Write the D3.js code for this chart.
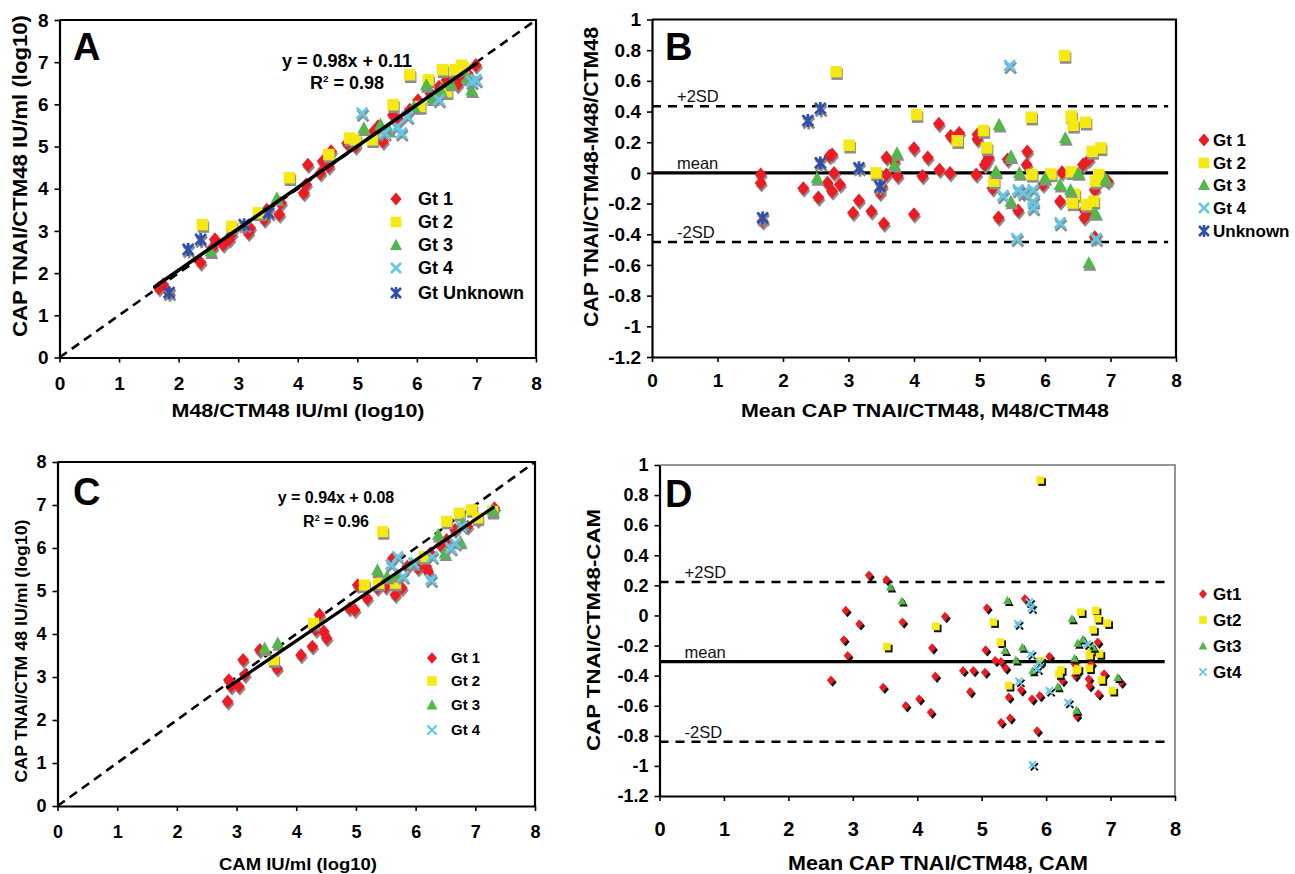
<!DOCTYPE html>
<html>
<head>
<meta charset="utf-8">
<script src="https://cdn.jsdelivr.net/npm/d3@7"></script>
<style>
  body { margin: 0; background: #fff; }
  svg text { font-family: "Liberation Sans", Arial, Helvetica, sans-serif; }
</style>
</head>
<body>
<svg id="chart" width="1295" height="874"></svg>
<script>
// ---------- Axis ticks ----------
const logTicks = [0, 1, 2, 3, 4, 5, 6, 7, 8];
const diffTicks = [-1.2, -1, -0.8, -0.6, -0.4, -0.2, 0, 0.2, 0.4, 0.6, 0.8, 1];

// ---------- Legend labels ----------
const legendA = ["Gt 1", "Gt 2", "Gt 3", "Gt 4", "Gt Unknown"];
const legendB = ["Gt 1", "Gt 2", "Gt 3", "Gt 4", "Unknown"];
const legendC = ["Gt 1", "Gt 2", "Gt 3", "Gt 4"];
const legendD = ["Gt1", "Gt2", "Gt3", "Gt4"];

// ---------- Panel A: CAP TNAI/CTM48 vs M48/CTM48 (log10 IU/ml) ----------
const aGt1 = [[1.67,1.65],[1.74,1.73],[1.84,1.54],[2.37,2.25],[2.57,2.60],[2.61,2.80],[2.75,2.68],[2.85,2.80],[2.89,2.92],[3.17,2.96],[3.20,3.07],[3.44,3.27],[3.48,3.50],[3.69,3.39],[3.72,3.66],[4.10,3.90],[4.14,4.10],[4.17,4.57],[4.38,4.37],[4.42,4.65],[4.52,4.53],[4.56,4.89],[4.83,5.08],[4.97,5.00],[5.25,5.32],[5.35,5.48],[5.43,5.12],[5.60,5.75],[5.70,5.63],[5.88,5.87],[6.02,6.10],[6.23,6.26],[6.37,6.42],[6.50,6.58],[6.68,6.46],[6.71,6.66],[6.85,6.74],[6.99,6.93],[6.92,6.58]];
const aGt2 = [[2.40,3.15],[2.89,3.11],[3.34,3.43],[3.86,4.26],[4.52,4.81],[4.87,5.20],[4.97,5.16],[5.25,5.16],[5.60,5.99],[5.88,6.70],[6.05,5.95],[6.19,6.58],[6.43,6.82],[6.50,6.30],[6.64,6.82],[6.75,6.93],[6.78,6.86]];
const aGt3 = [[2.54,2.52],[3.65,3.78],[5.11,5.44],[5.39,5.52],[5.53,5.40],[5.95,5.95],[6.16,6.46],[6.26,6.15],[6.40,6.34],[6.57,6.50],[6.85,6.62],[6.92,6.34]];
const aGt4 = [[5.08,5.79],[5.46,5.32],[5.67,5.48],[5.74,5.32],[5.84,5.71],[6.37,6.11],[6.92,6.54],[6.99,6.58]];
const aUnk = [[1.84,1.54],[2.16,2.56],[2.37,2.80],[3.10,3.15],[3.51,3.43]];
const fitA = { slope: 0.98, intercept: 0.11, r2: 0.98, from: 1.6, to: 7.0 };

// ---------- Panel B: difference vs mean, CAP TNAI/CTM48 and M48/CTM48 ----------
const bGt1 = [[1.66,-0.01],[1.66,-0.065],[1.69,-0.315],[2.31,-0.10],[2.54,-0.16],[2.71,0.11],[2.75,0.12],[2.68,-0.065],[2.75,-0.12],[2.78,0.0],[2.87,-0.076],[3.07,-0.26],[3.16,-0.18],[3.35,-0.25],[3.51,-0.087],[3.54,-0.33],[3.48,-0.13],[3.58,0.10],[3.58,-0.01],[3.70,0.076],[3.75,-0.02],[4.00,0.16],[4.00,-0.27],[4.13,-0.02],[4.21,0.10],[4.39,0.02],[4.38,0.32],[4.55,0.0],[4.56,0.24],[4.69,0.26],[4.95,-0.01],[4.97,0.25],[4.97,0.22],[5.08,0.054],[5.14,0.10],[5.11,0.076],[5.20,-0.10],[5.29,-0.29],[5.43,0.087],[5.59,-0.245],[5.67,-0.13],[5.72,0.054],[5.73,0.14],[5.97,-0.076],[6.23,-0.185],[6.26,0.004],[6.58,0.054],[6.67,0.087],[6.60,-0.24],[6.60,-0.29],[6.64,-0.26],[6.76,-0.11],[6.76,-0.42],[6.96,-0.054]];
const bGt2 = [[2.81,0.66],[3.01,0.18],[3.42,0.0],[4.04,0.38],[4.66,0.21],[5.06,0.276],[5.11,0.163],[5.22,-0.054],[5.79,0.363],[5.80,-0.01],[6.09,-0.007],[6.30,0.765],[6.40,0.37],[6.43,0.31],[6.62,0.33],[6.40,0.007],[6.45,-0.14],[6.42,-0.196],[6.63,-0.206],[6.74,-0.185],[6.72,0.14],[6.85,0.163],[6.77,-0.054],[6.82,-0.01]];
const bGt3 = [[2.52,-0.033],[3.70,0.054],[3.74,0.13],[5.30,0.315],[5.25,0.011],[5.48,0.11],[5.48,-0.185],[5.61,0.0],[6.00,-0.033],[6.23,-0.076],[6.31,0.228],[6.39,-0.11],[6.51,0.0],[6.77,-0.26],[6.93,-0.043],[6.67,-0.587]];
const bGt4 = [[5.46,0.70],[5.36,-0.148],[5.57,-0.428],[5.59,-0.11],[5.67,-0.13],[5.82,-0.11],[5.82,-0.185],[5.82,-0.228],[6.23,-0.326],[6.78,-0.428]];
const bUnk = [[1.69,-0.293],[2.38,0.341],[2.57,0.42],[2.57,0.065],[3.16,0.033],[3.48,-0.087]];
const limitsB = { mean: 0, upper: 0.435, lower: -0.45 };

// ---------- Panel C: CAP TNAI/CTM48 vs CAM (log10 IU/ml) ----------
const cGt1 = [[2.85,2.43],[2.87,2.93],[2.91,2.78],[3.04,2.78],[3.11,3.40],[3.14,3.05],[3.39,3.63],[3.68,3.20],[4.08,3.51],[4.27,3.71],[4.33,4.10],[4.39,4.45],[4.46,4.06],[4.51,3.90],[4.89,4.60],[4.98,4.56],[5.03,5.14],[5.19,4.83],[5.36,5.07],[5.50,5.10],[5.62,5.76],[5.66,4.91],[5.77,5.07],[5.86,5.57],[6.04,5.53],[6.18,5.57],[6.21,5.45],[6.25,5.88],[6.42,6.07],[6.52,6.19],[6.66,6.42],[6.87,6.50],[7.04,6.66],[7.32,6.93]];
const cGt2 = [[3.62,3.40],[4.29,4.25],[5.14,5.14],[5.38,5.18],[5.45,6.38],[5.66,5.18],[6.14,5.80],[6.52,6.62],[6.73,6.81],[6.94,6.89],[7.04,6.70],[7.29,6.85]];
const cGt3 = [[3.47,3.67],[3.69,3.79],[5.36,5.49],[5.52,5.34],[5.69,5.38],[5.93,5.65],[6.38,6.31],[6.49,5.88],[6.75,6.15],[6.79,6.58],[7.29,6.89]];
const cGt4 = [[5.59,5.61],[5.70,5.80],[5.79,5.34],[5.97,5.65],[6.28,5.80],[6.26,5.26],[6.59,6.00],[6.66,6.11],[6.77,6.50]];
const fitC = { slope: 0.94, intercept: 0.08, r2: 0.96, from: 2.85, to: 7.3 };

// ---------- Panel D: difference vs mean, CAP TNAI/CTM48 and CAM ----------
const dGt1 = [[2.66,-0.43],[2.86,-0.162],[2.89,0.033],[2.92,-0.267],[3.10,-0.056],[3.25,0.267],[3.47,-0.478],[3.52,0.238],[3.77,-0.044],[3.82,-0.60],[4.03,-0.556],[4.21,-0.644],[4.23,-0.216],[4.28,-0.404],[4.43,-0.007],[4.71,-0.367],[4.82,-0.507],[4.87,-0.367],[5.05,-0.378],[5.06,-0.229],[5.08,0.049],[5.21,-0.30],[5.30,-0.307],[5.30,-0.711],[5.37,-0.349],[5.42,-0.544],[5.44,-0.682],[5.61,-0.496],[5.67,0.111],[5.78,-0.556],[5.86,-0.767],[5.90,-0.533],[6.05,-0.273],[6.25,-0.433],[6.44,-0.322],[6.45,-0.40],[6.47,-0.667],[6.66,-0.422],[6.67,-0.467],[6.70,-0.322],[6.80,-0.178],[6.81,-0.522],[6.90,-0.389],[7.16,-0.444]];
const dGt2 = [[3.53,-0.207],[4.29,-0.073],[5.18,-0.044],[5.29,-0.178],[5.42,-0.467],[5.91,0.90],[5.91,-0.30],[6.20,-0.389],[6.23,-0.362],[6.47,-0.367],[6.49,-0.356],[6.54,0.022],[6.67,-0.267],[6.67,-0.351],[6.73,-0.096],[6.77,0.033],[6.80,-0.022],[6.83,-0.256],[6.86,-0.429],[6.95,-0.051],[7.03,-0.50],[6.69,-0.233]];
const dGt3 = [[3.58,0.189],[3.76,0.096],[5.40,0.10],[5.36,-0.233],[5.53,-0.296],[5.63,-0.211],[5.79,-0.367],[6.18,-0.473],[6.40,-0.022],[6.44,-0.284],[6.49,-0.184],[6.57,-0.156],[6.73,-0.211],[6.47,-0.629],[7.11,-0.411]];
const dGt4 = [[5.56,-0.056],[5.58,-0.438],[5.74,0.089],[5.77,0.049],[5.76,-0.256],[5.79,-0.993],[5.86,-0.356],[5.89,-0.311],[6.05,-0.50],[6.34,-0.578],[6.64,-0.189]];
const limitsD = { mean: -0.307, upper: 0.222, lower: -0.84 };

// ---------- Styling ----------
const COLORS = ["#ec1c24", "#f6e813", "#52b848", "#62c8e8", "#3050a8"];
const SHAPES = ["diamond", "square", "triangle", "cross", "star"];

const svg = d3.select("#chart");

function shapePath(shape, k) {
  switch (shape) {
    case "diamond": return `M0,${-6.5*k}L${5.6*k},0L0,${6.5*k}L${-5.6*k},0Z`;
    case "square": return `M${-5.3*k},${-5.3*k}h${10.6*k}v${10.6*k}h${-10.6*k}Z`;
    case "triangle": return `M0,${-6.3*k}L${6*k},${5*k}L${-6*k},${5*k}Z`;
    case "cross": return `M${-5*k},${-5*k}L${5*k},${5*k}M${-5*k},${5*k}L${5*k},${-5*k}`;
    case "star": return `M${-5*k},${-5*k}L${5*k},${5*k}M${-5*k},${5*k}L${5*k},${-5*k}M0,${-6*k}V${6*k}`;
  }
}
const isStroke = s => s === "cross" || s === "star";

function drawSeries(g, pts, shape, color, k, shadowColor, sdx, sdy, x, y) {
  const d = shapePath(shape, k);
  const layer = g.append("g");
  [[shadowColor, sdx, sdy], [color, 0, 0]].forEach(([c, ox, oy]) => {
    layer.append("g").selectAll("path").data(pts).join("path")
      .attr("transform", p => `translate(${x(p[0]) + ox},${y(p[1]) + oy})`)
      .attr("d", d)
      .attr("fill", isStroke(shape) ? "none" : c)
      .attr("stroke", isStroke(shape) ? c : "none")
      .attr("stroke-width", isStroke(shape) ? 2.6 * k : 0);
  });
}

function drawPanel(o) {
  const g = svg.append("g");
  const x = d3.scaleLinear().domain([0, 8]).range(o.xRange);
  const y = d3.scaleLinear().domain(o.yDomain).range(o.yRange);
  const fmt = v => String(+v.toFixed(1));

  // frame (top and right)
  g.append("path")
    .attr("d", `M${o.xRange[0]},${o.yRange[1]}H${o.xRange[1]}V${o.yRange[0]}`)
    .attr("fill", "none").attr("stroke", o.frameColor).attr("stroke-width", o.frameWidth);

  const xAxis = g.append("g").attr("transform", `translate(0,${o.yRange[0]})`)
    .call(d3.axisBottom(x).tickValues(logTicks).tickFormat(fmt).tickSize(5).tickSizeOuter(0).tickPadding(o.xPad));
  const yAxis = g.append("g").attr("transform", `translate(${o.xRange[0]},0)`)
    .call(d3.axisLeft(y).tickValues(o.yTicks).tickFormat(fmt).tickSize(5).tickSizeOuter(0).tickPadding(6));
  [xAxis, yAxis].forEach(a => {
    a.select(".domain").attr("stroke", "#000").attr("stroke-width", 2.2);
    a.selectAll(".tick line").attr("stroke", "#000").attr("stroke-width", 1.6);
    a.selectAll(".tick text").attr("fill", "#000").style("font-size", o.tickFont + "px").style("font-weight", "bold")
      .style("font-family", "'Liberation Sans', Arial, sans-serif");
  });
  xAxis.selectAll(".tick text").style("font-size", o.xTickFont + "px");

  // reference lines
  if (o.identity) {
    g.append("line")
      .attr("x1", x(0)).attr("y1", y(0)).attr("x2", x(8)).attr("y2", y(8))
      .attr("stroke", "#000").attr("stroke-width", 2.6).attr("stroke-dasharray", "9,6");
  }
  if (o.limits) {
    const L = o.limits, xEnd = x(o.limitEnd);
    [["upper", "9,7", 2.5], ["lower", "9,7", 2.5], ["mean", null, 3.2]].forEach(([key, dash, w]) => {
      const ln = g.append("line").attr("x1", x(0)).attr("x2", xEnd)
        .attr("y1", y(L[key])).attr("y2", y(L[key]))
        .attr("stroke", "#000").attr("stroke-width", w);
      if (dash) ln.attr("stroke-dasharray", dash);
    });
    [["+2SD", L.upper], ["mean", L.mean], ["-2SD", L.lower]].forEach(([t, v]) => {
      g.append("text").attr("x", o.xRange[0] + 25).attr("y", y(v) - 4)
        .attr("font-size", 16.5).attr("fill", "#111").text(t);
    });
  }

  // markers
  o.series.forEach((pts, i) => drawSeries(g, pts, SHAPES[i], COLORS[i], o.markerK, o.shadow, o.sdx, o.sdy, x, y));

  // regression fit line
  if (o.fit) {
    const f = o.fit;
    g.append("line")
      .attr("x1", x(f.from)).attr("y1", y(f.slope * f.from + f.intercept))
      .attr("x2", x(f.to)).attr("y2", y(f.slope * f.to + f.intercept))
      .attr("stroke", "#000").attr("stroke-width", o.fitWidth).attr("stroke-linecap", "round");
    const eq = g.append("text").attr("x", o.eqPos[0]).attr("y", o.eqPos[1]).attr("text-anchor", "middle")
      .attr("font-size", o.eqFont).attr("font-weight", "bold")
      .text(`y = ${f.slope.toFixed(2)}x + ${f.intercept.toFixed(2)}`);
    const r = g.append("text").attr("x", o.eqPos[0]).attr("y", o.eqPos[1] + o.eqGap).attr("text-anchor", "middle")
      .attr("font-size", o.eqFont).attr("font-weight", "bold");
    r.append("tspan").text("R");
    r.append("tspan").attr("font-size", o.eqFont * 0.55).attr("dy", -o.eqFont * 0.4).text("2");
    r.append("tspan").attr("dy", o.eqFont * 0.4).text(` = ${f.r2.toFixed(2)}`);
  }

  // panel letter
  g.append("text").attr("x", o.letterPos[0]).attr("y", o.letterPos[1])
    .attr("font-size", 38).attr("font-weight", "bold").text(o.letter);

  // legend
  o.legend.forEach((lab, i) => {
    const ly = o.legendY[i];
    const mk = g.append("path").attr("transform", `translate(${o.legendX},${ly})`)
      .attr("d", shapePath(SHAPES[i], o.legendK));
    if (isStroke(SHAPES[i])) mk.attr("fill", "none").attr("stroke", COLORS[i]).attr("stroke-width", 2.6 * o.legendK);
    else mk.attr("fill", COLORS[i]);
    g.append("text").attr("x", o.legendX + o.legendGap).attr("y", ly + o.legendFont * 0.36)
      .attr("font-size", o.legendFont).attr("font-weight", "bold").text(lab);
  });

  // axis titles
  g.append("text").attr("x", o.xTitle[0]).attr("y", o.xTitle[1]).attr("text-anchor", "middle")
    .attr("font-size", o.xTitle[2]).attr("font-weight", "bold")
    .attr("textLength", o.xTitle[3]).attr("lengthAdjust", "spacingAndGlyphs").text(o.xTitle[4]);
  g.append("text").attr("transform", `translate(${o.yTitle[0]},${o.yTitle[1]}) rotate(-90)`)
    .attr("text-anchor", "middle").attr("font-size", o.yTitle[2]).attr("font-weight", "bold")
    .attr("textLength", o.yTitle[3]).attr("lengthAdjust", "spacingAndGlyphs").text(o.yTitle[4]);
}

drawPanel({
  letter: "A", letterPos: [73, 60],
  xRange: [59.5, 536], yDomain: [0, 8], yRange: [357.5, 20], yTicks: logTicks,
  frameColor: "#000", frameWidth: 2.2, tickFont: 19, xTickFont: 19, xPad: 14,
  identity: true, fit: fitA, fitWidth: 3.6, eqPos: [347, 67], eqGap: 22, eqFont: 18,
  series: [aGt1, aGt2, aGt3, aGt4, aUnk], markerK: 1.08, shadow: "#8c8c8c", sdx: 1, sdy: 2.5,
  legend: legendA, legendX: 396, legendY: [199, 222, 245, 268, 293], legendGap: 22, legendFont: 18, legendK: 1,
  xTitle: [298, 417, 19, 253, "M48/CTM48 IU/ml (log10)"],
  yTitle: [27, 176, 20, 322, "CAP TNAI/CTM48 IU/ml (log10)"]
});

drawPanel({
  letter: "B", letterPos: [665, 60],
  xRange: [652, 1176], yDomain: [-1.2, 1], yRange: [357, 19.5], yTicks: diffTicks,
  frameColor: "#000", frameWidth: 2.2, tickFont: 19, xTickFont: 19, xPad: 12,
  limits: limitsB, limitEnd: 7.88,
  series: [bGt1, bGt2, bGt3, bGt4, bUnk], markerK: 1.08, shadow: "#8c8c8c", sdx: 1, sdy: 2.5,
  legend: legendB, legendX: 1204, legendY: [140, 163, 185, 208, 231], legendGap: 9, legendFont: 17, legendK: 1,
  xTitle: [925, 417, 19, 368, "Mean CAP TNAI/CTM48, M48/CTM48"],
  yTitle: [598, 177, 20, 300, "CAP TNAI/CTM48-M48/CTM48"]
});

drawPanel({
  letter: "C", letterPos: [73, 505],
  xRange: [57.5, 535], yDomain: [0, 8], yRange: [806, 462], yTicks: logTicks,
  frameColor: "#000", frameWidth: 2.2, tickFont: 18, xTickFont: 18, xPad: 14,
  identity: true, fit: fitC, fitWidth: 3.2, eqPos: [336, 503], eqGap: 24, eqFont: 16,
  series: [cGt1, cGt2, cGt3, cGt4], markerK: 1.05, shadow: "#8c8c8c", sdx: 1, sdy: 2.5,
  legend: legendC, legendX: 432, legendY: [658, 681, 705, 730], legendGap: 19, legendFont: 15, legendK: 0.9,
  xTitle: [298, 870, 16, 158, "CAM IU/ml (log10)"],
  yTitle: [27, 651, 17, 263, "CAP TNAI/CTM 48 IU/ml (log10)"]
});

drawPanel({
  letter: "D", letterPos: [665, 507],
  xRange: [659.5, 1175], yDomain: [-1.2, 1], yRange: [796, 465], yTicks: diffTicks,
  frameColor: "#777", frameWidth: 1.6, tickFont: 18, xTickFont: 20, xPad: 21,
  limits: limitsD, limitEnd: 7.84,
  series: [dGt1, dGt2, dGt3, dGt4], markerK: 0.72, shadow: "#111", sdx: 1.8, sdy: 2,
  legend: legendD, legendX: 1203, legendY: [594, 620, 646, 672], legendGap: 10, legendFont: 17, legendK: 0.72,
  xTitle: [938, 870, 20, 300, "Mean CAP TNAI/CTM48, CAM"],
  yTitle: [600, 630, 19, 242, "CAP TNAI/CTM48-CAM"]
});
</script>
</body>
</html>
